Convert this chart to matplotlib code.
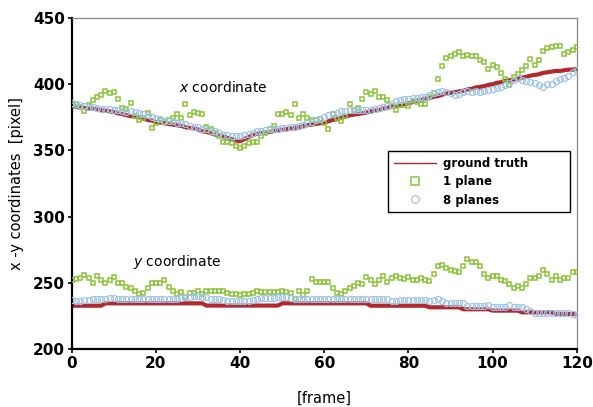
import matplotlib
matplotlib.use("Agg")
import matplotlib.pyplot as plt
from matplotlib.lines import Line2D

frames = list(range(121))

# x coordinate (pixel)
gt_x = [
    383.5, 383, 382.5, 382, 381.5, 381.5, 381, 380.5, 380, 379.5, 379,
    378, 377.5, 376.5, 376, 375.5, 375, 374, 373, 372.5, 371.5,
    371, 370.5, 370, 369.5, 369, 368.5, 367.5, 367, 366.5, 365.8,
    364.5, 364, 363, 362, 361.5, 360.5, 359.5, 358.5, 357.5, 357,
    358.5, 360, 361.5, 362.5, 363, 363.5, 364, 364.5, 365, 365.5,
    366, 366.5, 367, 367.5, 368.5, 369, 369.5, 370, 370.5, 371,
    372, 373, 373.5, 374.5, 375.5, 376.5, 377, 377.5, 378, 378.5,
    379.5, 380, 380.5, 381.5, 382, 383, 383.5, 384, 385, 385.5,
    386.5, 387.5, 388, 389, 389.5, 390.5, 391, 392, 393, 393.5,
    394, 394.5, 395, 396, 396.5, 397.5, 398, 398.5, 399.5, 400,
    401, 401.5, 402.5, 403, 403.5, 404, 405, 405.5, 406.5, 407,
    407.5, 408.5, 409, 409.5, 410, 410, 410.5, 411, 411, 411.5,
]
one_x = [
    384, 385, 383, 380, 384, 388, 390, 391.5, 394.5, 393.5, 394,
    388.8, 382, 381, 385.7, 375.6, 372.6, 374.4, 378, 366.8, 371,
    373, 371.8, 372.6, 374.4, 377.7, 374.4, 385, 376.9, 378.9, 378.2,
    377.7, 367.6, 366.3, 363.5, 360.5, 356.7, 356.7, 355.5, 353.5, 351.7,
    353.5, 355.5, 356.7, 356.7, 360.5, 363.5, 366.3, 368.3, 377.7, 377.7,
    378.7, 377, 384.7, 374.4, 377.7, 374.4, 372.6, 372.6, 373.6, 370.6,
    366.3, 377.4, 374.4, 372.4, 375.6, 385.2, 380.7, 382, 388.8, 394.1,
    392.8, 394.5, 390.7, 390, 387.7, 383.2, 380.7, 384.5, 384.5, 383.7,
    387, 386.5, 385.2, 385.2, 390.7, 393.3, 403.9, 413.4, 419.5, 421,
    422.8, 424.3, 421, 421.7, 421, 421, 418, 416.4, 411.7, 414.7,
    413, 408.4, 403.9, 399.6, 405.1, 407.7, 410.4, 413.4, 419.2, 414.7,
    418, 424.8, 427.3, 427.8, 429.1, 429.1, 422.8, 424.3, 426, 427.8,
]
eight_x = [
    386, 385, 384.5, 383.5, 383, 382.5, 382, 381.5, 381.5, 381, 380.5,
    380.5, 380, 379, 379.5, 379, 378.5, 377.5, 377, 375.5, 374.5,
    373.5, 372.5, 372, 372, 371, 370.5, 370, 368.5, 368, 367.5,
    366.5, 366, 365, 364.5, 363, 362, 361.5, 361, 360.5, 360.5,
    361.5, 362.5, 363.5, 364.5, 365, 365.5, 366, 366, 366.5, 367,
    367, 367.5, 368, 368.5, 369.5, 370.5, 371.5, 373, 374, 375.5,
    376.5, 377.5, 378.5, 380, 380, 380.5, 380.5, 380.5, 380.5, 380.5,
    380.5, 381, 382, 382.5, 383.5, 385, 387, 388, 388.5, 389,
    389.5, 389.5, 390, 390.5, 391.5, 393.5, 394, 394.5, 394, 393,
    391.5, 392.5, 394, 394.5, 394, 394.5, 394, 394.5, 395.5, 396.5,
    397.5, 398, 399.5, 401, 403, 404.5, 403.5, 402.5, 402, 401,
    399.5, 398, 400, 400.5, 402.5, 404, 405, 406, 409, 411,
]

# y coordinate (pixel)
gt_y = [
    232.7, 232.7, 232.7, 232.7, 232.7, 232.7, 232.7, 232.7, 234.5, 234.5, 234.5,
    234.5, 234.5, 234.5, 234.5, 234.5, 234.5, 234.5, 234.5, 234.5, 234.5,
    234.5, 234.5, 234.5, 234.5, 234.5, 234.5, 234.5, 234.5, 234.5, 234.5,
    234.5, 232.8, 232.8, 232.8, 232.8, 232.8, 232.8, 232.8, 232.8, 232.8,
    232.8, 232.8, 232.8, 232.8, 232.8, 232.8, 232.8, 232.8, 232.8, 234.5,
    234.5, 234.5, 234.5, 234.5, 234.5, 234.5, 234.5, 234.5, 234.5, 234.5,
    234.5, 234.5, 234.5, 234.5, 234.5, 234.5, 234.5, 234.5, 234.5, 234.5,
    232.7, 232.7, 232.7, 232.7, 232.7, 232.7, 232.7, 232.7, 232.7, 232.7,
    232.7, 232.7, 232.7, 232.7, 231.5, 231.5, 231.5, 231.5, 231.5, 231.5,
    231.5, 231.5, 230, 230, 230, 230, 230, 230, 230, 229,
    229, 229, 229, 229, 229, 229, 227.7, 227.7, 227.7, 227.7,
    227.7, 227.7, 227.7, 227.7, 226.5, 226.5, 226.5, 226.5, 226.5, 226.5,
]
one_y = [
    252.2, 252.7, 253.4, 256, 253.4, 250.1, 255.4, 252.2, 249.6, 252.2,
    254.7, 249.6, 250.1, 247.1, 245.9, 244.1, 241.6, 242.6, 245.9, 250.1,
    250.1, 250.1, 252.2, 247.1, 244.1, 241.6, 243.3, 239.6, 242.6, 242.6,
    244.1, 241.6, 243.8, 244.1, 244.1, 243.6, 244.1, 242.6, 241.6, 241.3,
    240.8, 241.3, 241.6, 242.1, 244.1, 243.3, 243.3, 243.3, 243.3, 243.3,
    244.1, 242.8, 242.6, 237.6, 243.8, 240.8, 244.1, 252.7, 250.4, 250.4,
    250.4, 250.4, 246.3, 242.6, 241.3, 243.8, 245.9, 247.6, 250.1, 248.9,
    254.7, 252.2, 249.1, 252.2, 255.2, 250.4, 253.4, 255.2, 253.4, 252.7,
    254.7, 252.2, 252.2, 253.4, 252.2, 251.4, 256.7, 262.7, 263.3, 261.5,
    259.7, 259.2, 258, 262.7, 267.8, 266, 265.5, 262.7, 256.5, 253.4,
    255.4, 255.4, 252.2, 251.4, 248.9, 245.9, 247.6, 246.3, 248.9, 253.4,
    253.4, 255.4, 259.7, 256.7, 252.2, 255.2, 252.2, 253.4, 253.4, 258.4,
    258.4,
]
eight_y = [
    237, 236, 236.5, 237, 237, 237.5, 238, 238, 238, 238.2, 238.2,
    238, 237.8, 237.6, 237.6, 237.6, 237.6, 237.6, 237.6, 237.8, 238,
    238, 238, 238, 237.8, 238, 238.5, 239.5, 239.5, 240, 239.8,
    239.5, 239, 237.6, 237.6, 237.6, 236.8, 236.3, 236.3, 236.3, 236.3,
    236.3, 236.3, 236.8, 238, 238.3, 238.3, 238.5, 238.5, 239.5, 239.5,
    239.5, 238.5, 237.8, 237.8, 237.8, 237.8, 237.8, 237.8, 237.6, 237.6,
    237.6, 237.6, 237.6, 237.6, 237.6, 237.6, 237.6, 237.6, 237.6, 237.6,
    237.6, 237.6, 237.6, 237.6, 237.6, 236.5, 236, 237.3, 237.3, 237.3,
    237.3, 237.3, 237.3, 237.3, 236.5, 237.3, 237.6, 236, 235, 234.5,
    234.5, 234.5, 234.5, 232.7, 232.7, 232.7, 232.7, 232.7, 233.2, 231.5,
    231.5, 231.5, 231.5, 233, 232, 232, 232, 230, 228.8, 227.5,
    227.5, 227.5, 227.5, 227.5, 227.5, 227.5, 227.5, 227, 226.5, 225.7,
]

red = "#b3282d"
green = "#8cc43c"
blue = "#9dc3e6"

fig = plt.figure(figsize=(5.93, 4.07), dpi=100)
ax = fig.add_axes([0.121, 0.1425, 0.8516, 0.8133])

for gt in (gt_x, gt_y):
    ax.plot(frames, gt, color=red, lw=3, zorder=2)
for d in (one_x, one_y):
    ax.plot(frames, d, ls="none", marker="s", ms=2.6, mfc="none",
            mec=green, mew=1.1, zorder=3)
for d in (eight_x, eight_y):
    ax.plot(frames, d, ls="none", marker="o", ms=4.3, mfc="none",
            mec=blue, mew=0.9, zorder=4)

ax.set_xlim(0, 120)
ax.set_ylim(200, 450)
ax.set_xticks(range(0, 121, 20))
ax.set_yticks(range(200, 451, 50))
ax.tick_params(direction="out", length=3, width=1.2, pad=2)
for lab in ax.get_xticklabels() + ax.get_yticklabels():
    lab.set_fontweight("bold")
    lab.set_fontsize(11)

for s in ("left", "bottom"):
    ax.spines[s].set_linewidth(1.6)
    ax.spines[s].set_color("black")
for s in ("top", "right"):
    ax.spines[s].set_linewidth(0.9)
    ax.spines[s].set_color("#888888")

ax.set_ylabel("x -y coordinates  [pixel]", fontsize=10.5, labelpad=6)
ax.set_xlabel("[frame]", fontsize=10.5, labelpad=14)

ax.text(25.5, 397.5, "$\\mathit{x}$ coordinate", fontsize=10, va="center")
ax.text(14.5, 266, "$\\mathit{y}$ coordinate", fontsize=10, va="center")

handles = [
    Line2D([], [], color=red, lw=1),
    Line2D([], [], ls="none", marker="s", ms=5.5, mfc="none", mec=green, mew=1.1),
    Line2D([], [], ls="none", marker="o", ms=5.5, mfc="none", mec=blue, mew=0.9),
]
leg = ax.legend(handles, ["ground truth", "1 plane", "8 planes"],
                loc="upper left", bbox_to_anchor=(0.626, 0.408, 0.36, 0.19),
                mode="expand", borderaxespad=0, fancybox=False, framealpha=1,
                edgecolor="black", handlelength=3.6, handletextpad=0.6,
                labelspacing=0.45, borderpad=0.5,
                prop={"weight": "bold", "size": 8.5})
leg.get_frame().set_linewidth(1.0)

fig.savefig("out.png", dpi=100)
